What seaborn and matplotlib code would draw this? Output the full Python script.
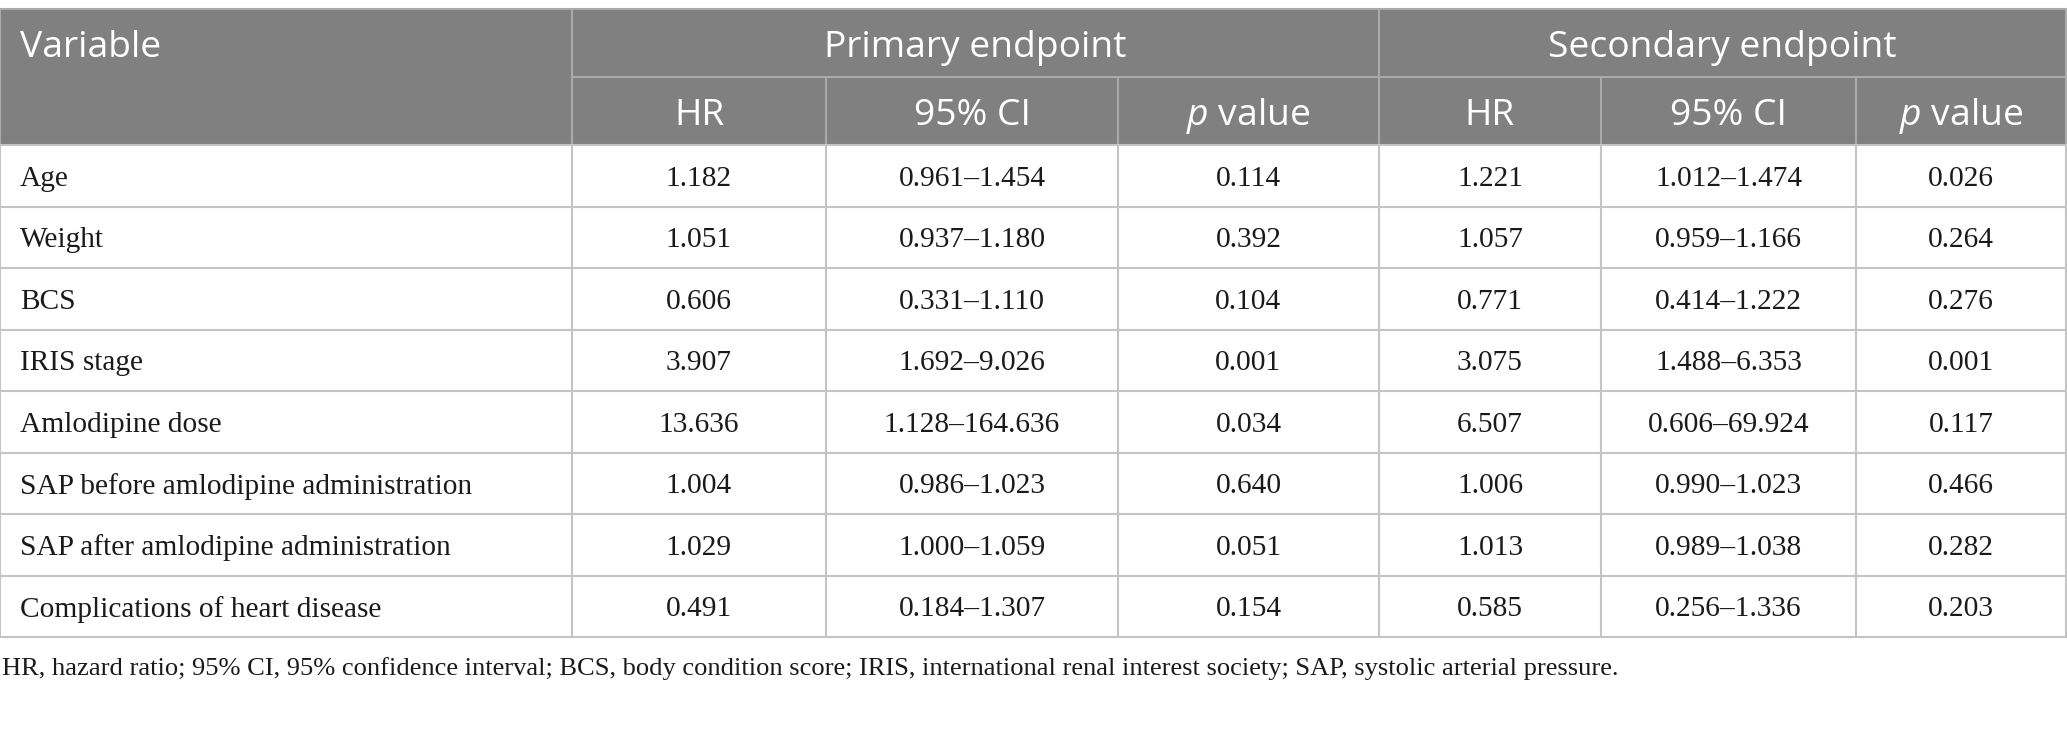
import matplotlib
matplotlib.use("Agg")
import matplotlib.pyplot as plt
import seaborn as sns

# ---------------- data ----------------
variables = ["Age", "Weight", "BCS", "IRIS stage", "Amlodipine dose",
             "SAP before amlodipine administration",
             "SAP after amlodipine administration",
             "Complications of heart disease"]
primary_hr = ["1.182", "1.051", "0.606", "3.907", "13.636", "1.004", "1.029", "0.491"]
primary_ci = ["0.961\u20131.454", "0.937\u20131.180", "0.331\u20131.110", "1.692\u20139.026",
              "1.128\u2013164.636", "0.986\u20131.023", "1.000\u20131.059", "0.184\u20131.307"]
primary_p = ["0.114", "0.392", "0.104", "0.001", "0.034", "0.640", "0.051", "0.154"]
secondary_hr = ["1.221", "1.057", "0.771", "3.075", "6.507", "1.006", "1.013", "0.585"]
secondary_ci = ["1.012\u20131.474", "0.959\u20131.166", "0.414\u20131.222", "1.488\u20136.353",
                "0.606\u201369.924", "0.990\u20131.023", "0.989\u20131.038", "0.256\u20131.336"]
secondary_p = ["0.026", "0.264", "0.276", "0.001", "0.117", "0.466", "0.282", "0.203"]
group_labels = ["Primary endpoint", "Secondary endpoint"]
sub_labels = ["HR", "95% CI", "p value"]
first_header = "Variable"
footnote = ("HR, hazard ratio; 95% CI, 95% confidence interval; BCS, body condition score; "
            "IRIS, international renal interest society; SAP, systolic arterial pressure.")

# ---------------- layout ----------------
W, H = 2067, 734
col_edges = [0, 572, 826, 1118, 1379, 1601, 1856, 2066]
y_top, y_mid, y_head = 9, 77, 145
y_bottom = 637
n_rows = len(variables)
row_h = (y_bottom - y_head) / n_rows

sns.set_theme(style="white")
plt.rcParams["font.family"] = ["Open Sans", "DejaVu Sans"]
plt.rcParams["mathtext.fontset"] = "custom"
plt.rcParams["mathtext.it"] = "Open Sans:italic"

fig = plt.figure(figsize=(W / 100, H / 100), dpi=100)
ax = fig.add_axes([0, 0, 1, 1])
ax.set_xlim(0, W)
ax.set_ylim(H, 0)
ax.axis("off")

header_bg = "#7f807f"
header_line = "#a9aaa9"
grid_line = "#c4c4c4"
lw = 1.5

serif = ["Liberation Serif", "DejaVu Serif"]
sans = ["Open Sans", "DejaVu Sans"]

renderer = fig.canvas.get_renderer()

def fit_size(text, family, target_px, base=20):
    t = ax.text(0, 0, text, fontsize=base, family=family)
    w = t.get_window_extent(renderer=renderer).width
    t.remove()
    return base * target_px / w

body_fs = fit_size("SAP before amlodipine administration", serif, 452)
head_fs = fit_size("Secondary endpoint", sans, 347)
foot_fs = fit_size(footnote, serif, 1618)

# header background
ax.fill_between([col_edges[0], col_edges[-1]], y_top, y_head, color=header_bg, lw=0, zorder=0)

# header lines
ax.plot([col_edges[0], col_edges[-1]], [y_top, y_top], color=header_line, lw=lw, zorder=2)
ax.plot([col_edges[1], col_edges[-1]], [y_mid, y_mid], color=header_line, lw=lw, zorder=2)
for i, x in enumerate(col_edges):
    if i in (0, 1, 4, 7):
        ax.plot([x, x], [y_top, y_head], color=header_line, lw=lw, zorder=2)
    else:
        ax.plot([x, x], [y_mid, y_head], color=header_line, lw=lw, zorder=2)

# body grid
for r in range(n_rows + 1):
    y = y_head + r * row_h
    ax.plot([col_edges[0], col_edges[-1]], [y, y], color=grid_line, lw=lw, zorder=2)
for x in col_edges:
    ax.plot([x, x], [y_head, y_bottom], color=grid_line, lw=lw, zorder=2)

# header text
hdr_dy = 5
ax.text(20, (y_top + y_mid) / 2 + hdr_dy, first_header, color="white", fontsize=head_fs,
        family=sans, va="center", ha="left", zorder=3)
for g, lab in enumerate(group_labels):
    x0, x1 = col_edges[1 + 3 * g], col_edges[4 + 3 * g]
    ax.text((x0 + x1) / 2, (y_top + y_mid) / 2 + hdr_dy, lab, color="white", fontsize=head_fs,
            family=sans, va="center", ha="center", zorder=3)
    for s, sl in enumerate(sub_labels):
        xa, xb = col_edges[1 + 3 * g + s], col_edges[2 + 3 * g + s]
        xc = (xa + xb) / 2
        yc = (y_mid + y_head) / 2 + hdr_dy
        if sl == "p value":
            ax.text(xc, yc, r"$\it{p}$" + " value", color="white", fontsize=head_fs,
                    family=sans, va="center", ha="center", zorder=3)
        else:
            ax.text(xc, yc, sl, color="white", fontsize=head_fs, family=sans,
                    va="center", ha="center", zorder=3)

# body text
columns = [primary_hr, primary_ci, primary_p, secondary_hr, secondary_ci, secondary_p]
for r in range(n_rows):
    yc = y_head + (r + 0.5) * row_h + 3
    ax.text(20, yc, variables[r], fontsize=body_fs, family=serif, va="center",
            ha="left", color="#1a1a1a", zorder=3)
    for c, col in enumerate(columns):
        xc = (col_edges[1 + c] + col_edges[2 + c]) / 2
        ax.text(xc, yc, col[r], fontsize=body_fs, family=serif, va="center",
                ha="center", color="#1a1a1a", zorder=3)

ax.text(2, 669, footnote, fontsize=foot_fs, family=serif, va="center", ha="left",
        color="#1a1a1a")

fig.savefig("out.png", dpi=100, facecolor="white")
